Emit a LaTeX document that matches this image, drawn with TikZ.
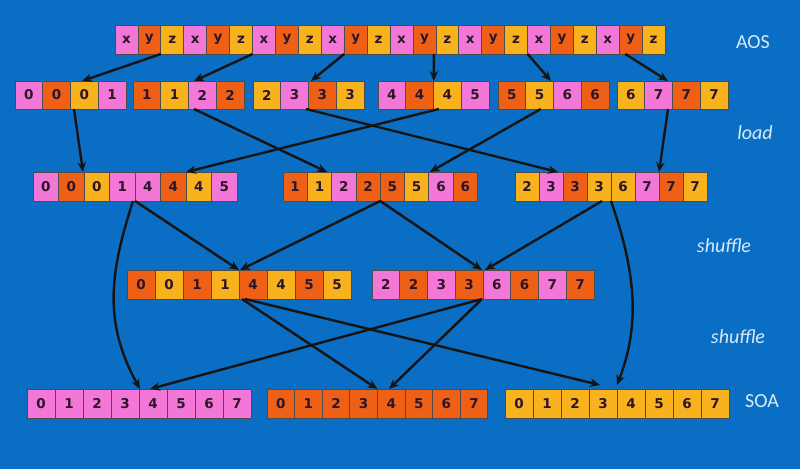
\documentclass[tikz,border=0pt]{standalone}
\usepackage{fontspec}
\setmainfont{DejaVu Sans}
\newfontfamily\labfont{Carlito}
\usetikzlibrary{arrows.meta}
\definecolor{bg}{HTML}{0A6EC4}
\definecolor{pk}{HTML}{F277D6}
\definecolor{og}{HTML}{EE6016}
\definecolor{yl}{HTML}{F8B21E}
\definecolor{tx}{HTML}{2A152A}
\definecolor{lb}{HTML}{D8EAF6}
\tikzset{
 cellbox/.style={draw=black!70, line width=0.7pt, inner sep=0pt, outer sep=0pt, anchor=north west, font=\bfseries\fontsize{13.5}{13.5}\selectfont, text=tx},
 flow/.style={draw=black!92, line width=2.4pt, -{Stealth[length=10pt,width=8.5pt]}},
 lab/.style={text=lb, font=\labfont\fontsize{20}{20}\selectfont},
 labit/.style={text=lb, font=\labfont\itshape\fontsize{20}{20}\selectfont},
}
\newcommand\cellgroup[7]{%
 \foreach \c/\t [count=\k from #2] in {#7} {
   \node[cellbox, fill=\c, minimum width=#5pt, minimum height=#6pt] (#1\k) at ({#3+#5*(\k-#2)},#4) {\t};
 }%
}
\begin{document}
\begin{tikzpicture}[x=1pt,y=-1pt]
\fill[bg] (0,0) rectangle (800,469);
\useasboundingbox (0,0) rectangle (800,469);
% row 1 AOS
\cellgroup{a}{1}{115}{25}{22.92}{29}{pk/x,og/y,yl/z,pk/x,og/y,yl/z,pk/x,og/y,yl/z,pk/x,og/y,yl/z,pk/x,og/y,yl/z,pk/x,og/y,yl/z,pk/x,og/y,yl/z,pk/x,og/y,yl/z}
% row 2
\cellgroup{b}{1}{15}{81}{27.75}{28}{pk/0,og/0,yl/0,pk/1}
\cellgroup{b}{5}{133}{81}{27.75}{28}{og/1,yl/1,pk/2,og/2}
\cellgroup{b}{9}{253}{81}{27.75}{28}{yl/2,pk/3,og/3,yl/3}
\cellgroup{b}{13}{378}{81}{27.75}{28}{pk/4,og/4,yl/4,pk/5}
\cellgroup{b}{17}{498}{81}{27.75}{28}{og/5,yl/5,pk/6,og/6}
\cellgroup{b}{21}{617}{81}{27.75}{28}{yl/6,pk/7,og/7,yl/7}
% row 3
\cellgroup{c}{1}{33}{172}{25.5}{29}{pk/0,og/0,yl/0,pk/1,pk/4,og/4,yl/4,pk/5}
\cellgroup{c}{9}{283}{172}{24.3}{29}{og/1,yl/1,pk/2,og/2,og/5,yl/5,pk/6,og/6}
\cellgroup{c}{17}{515}{172}{24}{29}{yl/2,pk/3,og/3,yl/3,yl/6,pk/7,og/7,yl/7}
% row 4
\cellgroup{d}{1}{127}{270}{28}{29}{og/0,yl/0,og/1,yl/1,og/4,yl/4,og/5,yl/5}
\cellgroup{d}{9}{372}{270}{27.75}{29}{pk/2,og/2,pk/3,og/3,pk/6,og/6,pk/7,og/7}
% row 5 SOA
\cellgroup{e}{1}{27}{389}{28}{29}{pk/0,pk/1,pk/2,pk/3,pk/4,pk/5,pk/6,pk/7}
\cellgroup{e}{9}{267}{389}{27.6}{29}{og/0,og/1,og/2,og/3,og/4,og/5,og/6,og/7}
\cellgroup{e}{17}{505}{389}{28}{29}{yl/0,yl/1,yl/2,yl/3,yl/4,yl/5,yl/6,yl/7}
% labels
\node[lab] (aos) at (753,42) {AOS};
\node[labit] (ld) at (755,133) {load};
\node[labit] (sh1) at (724,246) {shuffle};
\node[labit] (sh2) at (738,337) {shuffle};
\node[lab] (soa) at (762,401) {SOA};
% row1 -> row2
\draw[flow] (a2.south east) -- ([xshift=11.5pt]b3.north west);
\draw[flow] (a6.south east) -- ([xshift=5.5pt]b7.north west);
\draw[flow] (a10.south east) -- ([xshift=2.5pt]b11.north west);
\draw[flow] ([xshift=-2pt]a14.south east) -- ([xshift=0.3pt]b15.north west);
\draw[flow] (a18.south east) -- ([xshift=-2.5pt]b19.north west);
\draw[flow] ([xshift=6pt]a23.south west) -- ([xshift=-4.5pt]b23.north west);
% row2 -> row3
\draw[flow] ([xshift=3.5pt]b3.south west) -- ([xshift=-1pt]c3.north west);
\draw[flow] ([xshift=5.5pt]b7.south west) -- ([xshift=-4.6pt]c11.north west);
\draw[flow] ([xshift=-2.5pt]b11.south west) -- ([xshift=-5pt]c19.north west);
\draw[flow] ([xshift=5.5pt]b15.south west) -- (c7.north west);
\draw[flow] ([xshift=15pt]b18.south west) -- ([xshift=1pt]c15.north west);
\draw[flow] ([xshift=-4.5pt]b23.south west) -- (c23.north west);
% row3 -> row4
\draw[flow] (c5.south west) -- (d5.north west);
\draw[flow] (c13.south west) -- ([xshift=1pt]d5.north west);
\draw[flow] (c13.south west) -- ([xshift=-1pt]d13.north west);
\draw[flow] ([xshift=-9pt]c21.south west) -- ([xshift=2pt]d13.north west);
% row3 -> row5 (curves)
\draw[flow] (c21.south west) .. controls +(24,69) and +(24,-62) .. ([yshift=4pt]e21.north west);
\draw[flow] ([xshift=-2pt]c5.south west) .. controls +(-22,69) and +(-38,-69) .. ([xshift=1pt]e5.north west);
% row4 -> row5
\draw[flow] ([xshift=3pt]d5.south west) -- (e13.north west);
\draw[flow] ([xshift=6pt]d5.south west) -- ([xshift=11pt,yshift=4pt]e20.north west);
\draw[flow] ([xshift=-1pt]d13.south west) -- ([xshift=11pt]e5.north west);
\draw[flow] ([xshift=-1pt]d13.south west) -- ([xshift=-16pt]e14.north west);
\end{tikzpicture}
\end{document}
